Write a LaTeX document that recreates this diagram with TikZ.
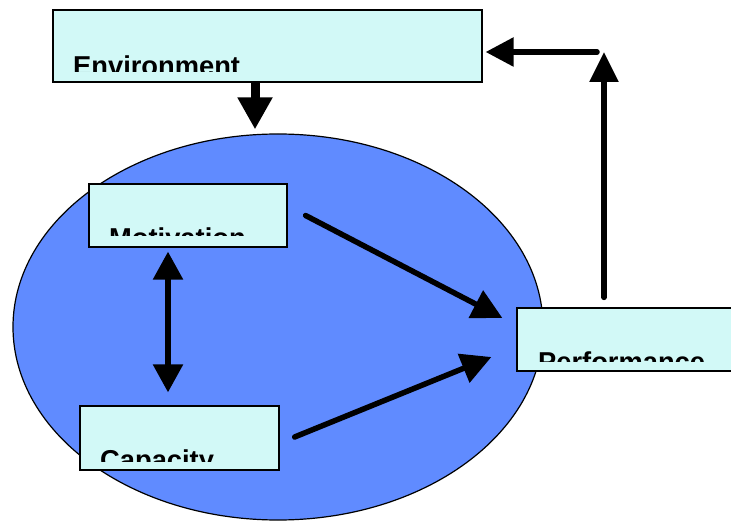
\documentclass[tikz,border=0pt]{standalone}
\usepackage{fontspec}
\setmainfont{Liberation Sans}
\usepackage{tikz}
\usetikzlibrary{positioning,arrows.meta,shapes.geometric}

\definecolor{orgblue}{RGB}{96,139,255}
\definecolor{boxcyan}{RGB}{210,249,247}

\begin{document}
\begin{tikzpicture}[
    x=1pt, y=-1pt,
    boxnode/.style={rectangle, draw=black, fill=boxcyan, line width=1.2pt, inner sep=0pt},
    labelnode/.style={anchor=base west, inner sep=0pt, font=\bfseries\fontsize{27.3}{27.3}\selectfont},
    bigarrow/.style={-{Triangle[length=30pt, width=30pt]}, line width=5.5pt, line cap=round}
    ]
        \clip (0,0) rectangle (731,521);
        %Nodes
        \node[ellipse, draw=black, fill=orgblue, line width=1.2pt, inner sep=0pt,
              minimum width=530pt, minimum height=386pt]
            (org)   at (278,327)    {};
        \node[boxnode, minimum width=429pt, minimum height=72pt]
            (env)   at (267.5,46)   {};
        \node[boxnode, minimum width=198pt, minimum height=63pt]
            (mot)   at (188,215.5)  {};
        \node[boxnode, minimum width=199pt, minimum height=64pt]
            (cap)   at (179.5,438)  {};
        \node[boxnode, minimum width=243pt, minimum height=63pt]
            (perf)  at (638.5,339.5) {};
        \coordinate (corner) at (604,52);

        %Labels (cut off above the lower edge)
        \begin{scope}
            \clip (env.north west) rectangle (env.east |- 0,72);
            \node[labelnode] (envtext) at (73,75.5) {Environment};
        \end{scope}
        \begin{scope}
            \clip (mot.north west) rectangle (mot.east |- 0,236);
            \node[labelnode] (mottext) at (109,247.5) {Motivation};
        \end{scope}
        \begin{scope}
            \clip (cap.north west) rectangle (cap.east |- 0,461);
            \node[labelnode] (captext) at (100,469.5) {Capacity};
        \end{scope}
        \begin{scope}
            \clip (perf.north west) rectangle (perf.east |- 0,361);
            \node[labelnode] (perftext) at (538,371.5) {Performance};
        \end{scope}

        %Lines
        \draw[bigarrow, line width=9pt, line cap=butt, -{Triangle[length=32pt, width=33pt]}]
            ([xshift=-12.5pt, yshift=-0.6pt]env.south) -- ([xshift=-23pt, yshift=4pt]org.north);
        \draw[bigarrow, {Triangle[length=28pt, width=29pt]}-{Triangle[length=28pt, width=29pt]}]
            ([xshift=-20pt, yshift=-4pt]mot.south) -- ([xshift=-11.5pt, yshift=13pt]cap.north);
        \draw[bigarrow]
            ([xshift=18pt]mot.east) -- ([xshift=-14pt, yshift=21.5pt]perf.west);
        \draw[bigarrow]
            ([xshift=15pt, yshift=1pt]cap.east) -- ([xshift=-25pt, yshift=-17.5pt]perf.west);
        \draw[bigarrow, -{Triangle[length=30pt, width=28pt]}]
            ([xshift=-34.5pt, yshift=10pt]perf.north) -- (corner);
        \draw[bigarrow, -{Triangle[length=28pt, width=28pt]}]
            ([xshift=-7pt]corner) -- ([xshift=3pt, yshift=-6pt]env.east);
    \end{tikzpicture}
\end{document}
